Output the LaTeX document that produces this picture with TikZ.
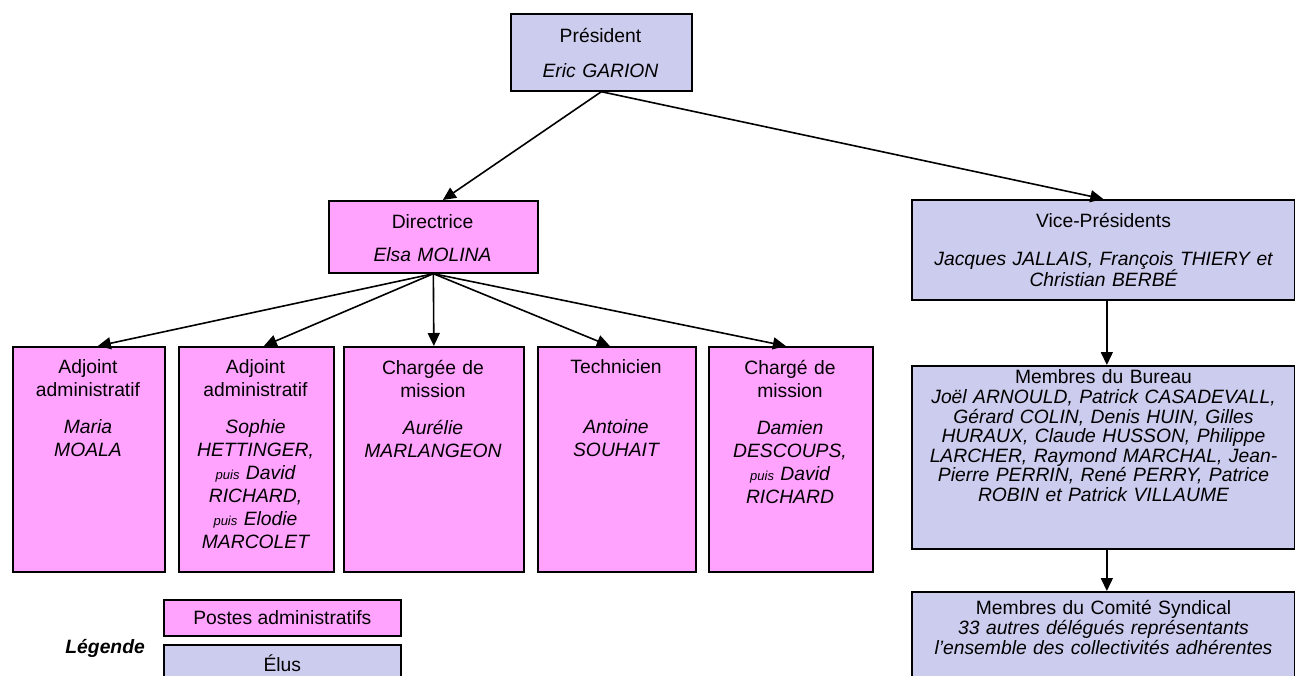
\documentclass[tikz,border=0pt]{standalone}
\usepackage{fontspec}
\setmainfont{Liberation Sans}
\usetikzlibrary{arrows.meta,calc}
\definecolor{pinkfill}{RGB}{255,163,255}
\definecolor{lavfill}{RGB}{204,204,238}
\newcommand{\puisword}{{\fontsize{13}{23}\selectfont puis}}
\begin{document}
\begin{tikzpicture}[x=1pt,y=-1pt,
  box/.style={draw=black, line width=1.7pt, rectangle, anchor=north west, inner sep=0pt},
  pinkbox/.style={box, fill=pinkfill},
  lavbox/.style={box, fill=lavfill},
  txt/.style={anchor=north, inner sep=0pt, align=center, font=\fontsize{19.3}{20}\selectfont},
  btxt/.style={txt, font=\fontsize{19.3}{23}\selectfont},
  arr/.style={line width=1.6pt, -{Triangle[length=13pt,width=12pt]}}
]
\useasboundingbox (0,0) rectangle (1295,675);

% boxes
\node[lavbox, minimum width=181pt, minimum height=77pt] (pres) at (510,13) {};
\node[pinkbox, minimum width=209pt, minimum height=72pt] (dir) at (328,200) {};
\node[lavbox, minimum width=383pt, minimum height=100pt] (vp) at (911,199) {};
\node[lavbox, minimum width=383pt, minimum height=183pt] (bur) at (911,365) {};
\node[lavbox, minimum width=383pt, minimum height=100pt] (com) at (911,591) {};

\node[pinkbox, minimum width=152pt, minimum height=225pt] (b1) at (12,346) {};
\node[pinkbox, minimum width=155pt, minimum height=225pt] (b2) at (178,346) {};
\node[pinkbox, minimum width=180pt, minimum height=225pt] (b3) at (343,346) {};
\node[pinkbox, minimum width=158pt, minimum height=225pt] (b4) at (537,346) {};
\node[pinkbox, minimum width=164pt, minimum height=225pt] (b5) at (708,346) {};

\node[pinkbox, minimum width=237pt, minimum height=36pt, font=\fontsize{19.3}{20}\selectfont] (legp) at (163,599) {Postes administratifs};
\node[lavbox, minimum width=237pt, minimum height=36pt, font=\fontsize{19.3}{20}\selectfont] (lege) at (163,644) {Élus};
\node[anchor=east, inner sep=0pt, font=\fontsize{19.3}{20}\selectfont\bfseries\itshape] (leg) at (145,648.5) {Légende};

% texts
\node[txt, text width=178pt] (tpres) at (600.5,27.7) {Président\\[15pt]\itshape Eric GARION};
\node[txt, text width=205pt] (tdir) at (432.5,214.7) {Directrice\\[13pt]\itshape Elsa MOLINA};
\node[txt, text width=378pt] (tvp) at (1103.5,212.7) {Vice-Présidents\\[18pt]\itshape Jacques JALLAIS, François THIERY et\\Christian BERBÉ};
\node[txt, text width=378pt, font=\fontsize{19.3}{19.6}\selectfont] (tbur) at (1103.5,369.7) {Membres du Bureau\\\itshape Joël ARNOULD, Patrick CASADEVALL,\\Gérard COLIN, Denis HUIN, Gilles\\HURAUX, Claude HUSSON, Philippe\\LARCHER, Raymond MARCHAL, Jean-\\Pierre PERRIN, René PERRY, Patrice\\ROBIN et Patrick VILLAUME};
\node[txt, text width=378pt] (tcom) at (1103.5,599.7) {Membres du Comité Syndical\\\itshape 33 autres délégués représentants\\l’ensemble des collectivités adhérentes};

\node[btxt, text width=150pt] (tb1) at (88,359.7) {Adjoint\\administratif\\[14pt]\itshape Maria\\MOALA};
\node[btxt, text width=153pt] (tb2) at (255.5,359.7) {Adjoint\\administratif\\[14pt]\itshape Sophie\\HETTINGER,\\\puisword{} David\\RICHARD,\\\puisword{} Elodie\\MARCOLET};
\node[btxt, text width=178pt] (tb3) at (433,359.7) {Chargée de\\mission\\[14pt]\itshape Aurélie\\MARLANGEON};
\node[btxt, text width=156pt] (tb4) at (616,359.7) {Technicien\\[37pt]\itshape Antoine\\SOUHAIT};
\node[btxt, text width=162pt] (tb5) at (790,359.7) {Chargé de\\mission\\[14pt]\itshape Damien\\DESCOUPS,\\\puisword{} David\\RICHARD};

% connectors
\draw[arr] (pres.south) -- ($(dir.north)+(9.5,0)$);
\draw[arr] (pres.south) -- (vp.north);
\draw[arr] (dir.south) -- ($(b1.north)+(9,0)$);
\draw[arr] (dir.south) -- ($(b2.north)+(7.5,0)$);
\draw[arr] (dir.south) -- (b3.north);
\draw[arr] (dir.south) -- ($(b4.north)+(-7,0)$);
\draw[arr] (dir.south) -- ($(b5.north)+(-5,0)$);
\draw[arr] ($(vp.south)+(3.5,0)$) -- ($(bur.north)+(3.5,0)$);
\draw[arr] ($(bur.south)+(3.5,0)$) -- ($(com.north)+(3.5,0)$);
\end{tikzpicture}
\end{document}
